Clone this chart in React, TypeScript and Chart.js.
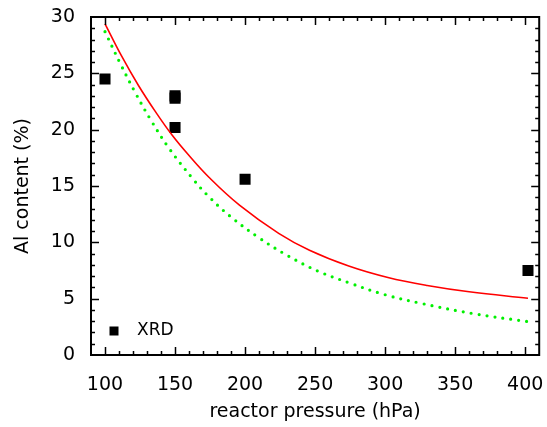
import React, { useEffect, useRef } from "react";
import { Chart, registerables } from "chart.js";

Chart.register(...registerables);

// Measured XRD points
const xrdPressure = [100, 150, 150, 150, 200, 402];
const xrdAl = [24.5, 23.0, 22.8, 20.2, 15.6, 7.5];

// Red model curve
const redPressure = [100, 112, 124, 136, 148, 160, 174, 196, 224, 246, 274, 302, 330, 360, 402];
const redAl = [29.4, 26.5, 23.9, 21.6, 19.5, 17.7, 15.8, 13.3, 10.8, 9.3, 7.9, 6.88, 6.17, 5.61, 5.03];

// Green dotted model curve
const greenPressure = [100, 111, 122, 133, 146, 163, 173, 189, 210, 231, 252, 274, 300, 327, 364, 401];
const greenAl = [28.7, 25.85, 23.2, 20.8, 18.3, 15.6, 14.2, 12.35, 10.4, 8.78, 7.45, 6.42, 5.35, 4.55, 3.65, 2.98];

const xTicks = [100, 150, 200, 250, 300, 350, 400];
const yTicks = [0, 5, 10, 15, 20, 25, 30];
const xMin = 90, xMax = 410, yMin = 0, yMax = 30;
const xTitle = "reactor pressure (hPa)";
const yTitle = "Al content (%)";
const legendLabel = "XRD";

const FONT = "'DejaVu Sans', sans-serif";

const framePlugin = {
  id: "frame",
  afterDraw(chart: any) {
    const { ctx, chartArea, scales } = chart;
    const { left, right, top, bottom } = chartArea;
    const xs = scales.x, ys = scales.y;
    ctx.save();
    ctx.strokeStyle = "#000";
    ctx.lineWidth = 1.5;
    ctx.beginPath();
    for (let v = xMin; v <= xMax; v += 10) {
      const px = Math.round(xs.getPixelForValue(v)) + 0.5;
      if (px <= left + 1 || px >= right - 1) continue;
      const len = v % 50 === 0 ? 8 : 4;
      ctx.moveTo(px, bottom); ctx.lineTo(px, bottom - len);
      ctx.moveTo(px, top); ctx.lineTo(px, top + len);
    }
    for (let v = yMin; v <= yMax; v += 1) {
      const py = Math.round(ys.getPixelForValue(v)) + 0.5;
      if (py <= top + 1 || py >= bottom - 1) continue;
      const len = v % 5 === 0 ? 8 : 4;
      ctx.moveTo(left, py); ctx.lineTo(left + len, py);
      ctx.moveTo(right, py); ctx.lineTo(right - len, py);
    }
    ctx.stroke();
    ctx.lineWidth = 2;
    ctx.strokeRect(left, top, right - left, bottom - top);
    // legend
    ctx.fillStyle = "#000";
    const lx = left + 23, ly = bottom - 24;
    ctx.fillRect(lx - 4.5, ly - 4.5, 9, 9);
    ctx.font = "17px " + FONT;
    ctx.textBaseline = "middle";
    ctx.textAlign = "left";
    ctx.fillText(legendLabel, lx + 23, ly);
    ctx.restore();
  },
};

export default function App() {
  const ref = useRef<HTMLCanvasElement>(null);
  useEffect(() => {
    const chart = new Chart(ref.current!, {
      type: "scatter",
      data: {
        datasets: [
          {
            label: "model2",
            type: "line",
            data: greenPressure.map((x, i) => ({ x, y: greenAl[i] })),
            borderColor: "#00f000",
            borderWidth: 3.2,
            borderDash: [0, 8],
            borderCapStyle: "round",
            pointRadius: 0,
            tension: 0.4,
            fill: false,
          } as any,
          {
            label: "model1",
            type: "line",
            data: redPressure.map((x, i) => ({ x, y: redAl[i] })),
            borderColor: "#ff0000",
            borderWidth: 1.6,
            pointRadius: 0,
            tension: 0.4,
            fill: false,
          } as any,
          {
            label: legendLabel,
            data: xrdPressure.map((x, i) => ({ x, y: xrdAl[i] })),
            pointStyle: "rect",
            pointRadius: 7.8,
            backgroundColor: "#000",
            borderColor: "#000",
            borderWidth: 0,
          } as any,
        ],
      },
      options: {
        animation: false,
        responsive: true,
        maintainAspectRatio: false,
        layout: { padding: { top: 17, right: 6, bottom: 0, left: 0 } },
        plugins: { legend: { display: false }, tooltip: { enabled: false } },
        scales: {
          x: {
            type: "linear",
            min: xMin,
            max: xMax,
            grid: { display: false },
            border: { display: false },
            afterBuildTicks: (s: any) => { s.ticks = xTicks.map((v) => ({ value: v })); },
            afterFit: (s: any) => { s.height = 72; s.paddingLeft = 0; s.paddingRight = 0; },
            ticks: { color: "#000", font: { family: FONT, size: 19 }, padding: 11, maxRotation: 0 },
            title: { display: true, text: xTitle, color: "#000", font: { family: FONT, size: 19 }, padding: { top: 0, bottom: 4 } },
          },
          y: {
            type: "linear",
            min: yMin,
            max: yMax,
            grid: { display: false },
            border: { display: false },
            afterBuildTicks: (s: any) => { s.ticks = yTicks.map((v) => ({ value: v })); },
            afterFit: (s: any) => { s.width = 91; s.paddingTop = 0; s.paddingBottom = 0; },
            ticks: { color: "#000", font: { family: FONT, size: 19 }, padding: 8 },
            title: { display: true, text: yTitle, color: "#000", font: { family: FONT, size: 19 }, padding: { top: 12, bottom: 0 } },
          },
        },
      },
      plugins: [framePlugin],
    });
    return () => chart.destroy();
  }, []);
  return (
    <div style={{ position: "absolute", left: 0, top: 0, width: 547, height: 427, background: "#fff" }}>
      <canvas ref={ref} />
    </div>
  );
}
